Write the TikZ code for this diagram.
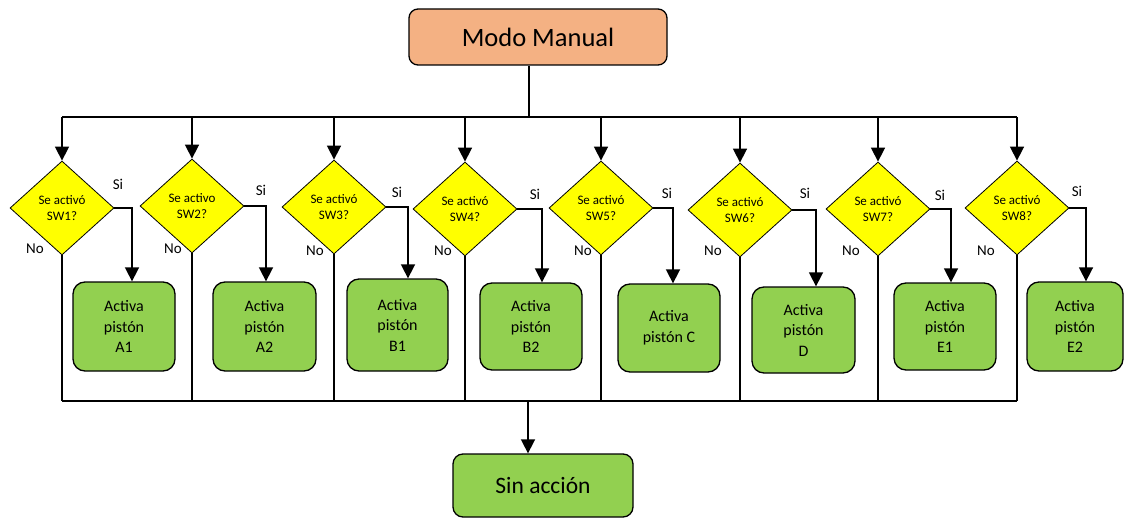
\documentclass[tikz,border=0pt]{standalone}
\usepackage{fontspec}
\setmainfont{Carlito}
\usetikzlibrary{shapes.geometric,arrows.meta}
\definecolor{orangebox}{HTML}{F4B183}
\definecolor{greenbox}{HTML}{92D050}
\definecolor{yellowd}{HTML}{FFFF00}
\begin{document}
\begin{tikzpicture}[x=1pt,y=-1pt,
  conn/.style={line width=1.6pt},
  arr/.style={line width=1.6pt,-{Triangle[width=14pt,length=14pt]}},
  decision/.style={diamond,draw=black,line width=0.8pt,fill=yellowd,minimum width=104pt,minimum height=94pt,inner sep=0pt,align=center,font=\fontsize{13}{16}\selectfont},
  action/.style={draw=black,line width=1.3pt,fill=greenbox,rounded corners=12pt,align=center,font=\fontsize{16}{20.5}\selectfont,inner sep=0pt},
  lbl/.style={font=\fontsize{15}{17}\selectfont,inner sep=0pt}]
\useasboundingbox (0,0) rectangle (1125,519);

\node[draw=black,line width=1.3pt,fill=orangebox,rounded corners=9pt,minimum width=258pt,minimum height=56pt,font=\fontsize{26.5}{30}\selectfont] (top) at (538,37) {Modo Manual};
\node[action,minimum width=180pt,minimum height=63pt,rounded corners=10pt,font=\fontsize{23.5}{27}\selectfont] (sin) at (543,485.5) {Sin acción};

\coordinate (busT) at (529,117);
\coordinate (busB) at (528,401);

\node[decision] (d1) at (62,208) {Se activó\\SW1?};
\node[decision] (d2) at (192,206) {Se activo\\SW2?};
\node[decision] (d3) at (334,207) {Se activó\\SW3?};
\node[decision] (d4) at (465,209) {Se activó\\SW4?};
\node[decision] (d5) at (601,208) {Se activó\\SW5?};
\node[decision] (d6) at (740,210) {Se activó\\SW6?};
\node[decision] (d7) at (878,209) {Se activó\\SW7?};
\node[decision] (d8) at (1017,208) {Se activó\\SW8?};

\node[action,minimum width=102pt,minimum height=89pt] (a1) at (124,326.5) {Activa\\pistón\\A1};
\node[action,minimum width=103pt,minimum height=89pt] (a2) at (264.5,326.5) {Activa\\pistón\\A2};
\node[action,minimum width=101pt,minimum height=92pt] (b1) at (397.5,325) {Activa\\pistón\\B1};
\node[action,minimum width=102pt,minimum height=87pt] (b2) at (531,326.5) {Activa\\pistón\\B2};
\node[action,minimum width=102pt,minimum height=88pt] (c) at (669,328) {Activa\\pistón C};
\node[action,minimum width=103pt,minimum height=86pt] (d) at (803.5,330) {Activa\\pistón\\D};
\node[action,minimum width=102pt,minimum height=87pt] (e1) at (945,326.5) {Activa\\pistón\\E1};
\node[action,minimum width=96pt,minimum height=89pt] (e2) at (1075,326.5) {Activa\\pistón\\E2};

% top bus
\draw[conn] (busT |- top.south) -- (busT);
\draw[conn] (d1.north |- busT) -- (d8.north |- busT);
\foreach \n in {d1,d2,d3,d4,d5,d6,d7,d8}{
  \draw[arr] (\n.north |- busT) -- (\n.north);
}

% Si branches
\draw[arr] (d1.east) -| ([xshift=8pt]a1.north);
\draw[arr] (d2.east) -| ([xshift=1.5pt]a2.north);
\draw[arr] (d3.east) -| ([xshift=10.5pt]b1.north);
\draw[arr] (d4.east) -| ([xshift=11pt]b2.north);
\draw[arr] (d5.east) -| ([xshift=4pt]c.north);
\draw[arr] (d6.east) -| ([xshift=12.5pt]d.north);
\draw[arr] (d7.east) -| ([xshift=6pt]e1.north);
\draw[arr] (d8.east) -| ([xshift=11pt]e2.north);

% No branches and bottom bus
\foreach \n in {d1,d2,d3,d4,d5,d6,d7,d8}{
  \draw[conn] (\n.south) -- (\n.south |- busB);
}
\draw[conn] (d1.south |- busB) -- (d8.south |- busB);
\draw[arr] (busB) -- (busB |- sin.north);

% labels
\node[lbl] (si1) at (118,184) {Si};
\node[lbl] (si2) at (261,190) {Si};
\node[lbl] (si3) at (397,192) {Si};
\node[lbl] (si4) at (535,194) {Si};
\node[lbl] (si5) at (667,193) {Si};
\node[lbl] (si6) at (805,193) {Si};
\node[lbl] (si7) at (940,195) {Si};
\node[lbl] (si8) at (1077,191) {Si};
\node[lbl] (no1) at (35,249) {No};
\node[lbl] (no2) at (173,249) {No};
\node[lbl] (no3) at (315,251) {No};
\node[lbl] (no4) at (443,251) {No};
\node[lbl] (no5) at (583,251) {No};
\node[lbl] (no6) at (713,251) {No};
\node[lbl] (no7) at (851,251) {No};
\node[lbl] (no8) at (986,251) {No};
\end{tikzpicture}
\end{document}
